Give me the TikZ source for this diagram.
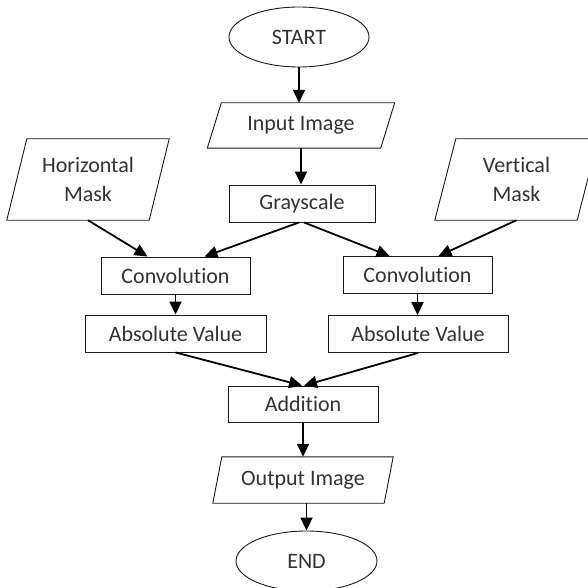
\documentclass[tikz,border=0pt]{standalone}
\usepackage{fontspec}
\setmainfont{Carlito}[Ligatures={NoCommon}]
\usetikzlibrary{shapes.geometric,arrows.meta,calc}
\definecolor{ink}{RGB}{25,25,25}
\definecolor{labelgray}{RGB}{50,50,50}
% parallelogram outline around a named (undrawn) node: #1 node, #2 horizontal slant
\newcommand\slantedframe[2]{%
  \draw[ink, line width=0.9pt]
    ([xshift=#2/2]#1.north west) -- ([xshift=#2/2]#1.north east) --
    ([xshift=-#2/2]#1.south east) -- ([xshift=-#2/2]#1.south west) -- cycle;}
\begin{document}
\begin{tikzpicture}[x=1pt,y=-1pt,
  every node/.style={font=\fontsize{22}{29}\selectfont, text=labelgray, inner sep=0pt},
  terminal/.style={ellipse, draw=ink, line width=0.9pt, minimum width=140pt, minimum height=60pt},
  procbox/.style={rectangle, draw=ink, line width=0.9pt, minimum height=37pt},
  iobody/.style={rectangle, align=center},
  flow/.style={-{Triangle[length=13pt,width=12pt]}, line width=1.8pt, draw=black},
]
\useasboundingbox (0,0) rectangle (587,588);

% nodes
\node[terminal] (start) at (299,37) {START};
\node[iobody, minimum width=173pt, minimum height=45pt] (in) at (301,125.5) {Input Image};
\slantedframe{in}{14}
\node[procbox, minimum width=146pt] (gs) at (302,203.5) {Grayscale};
\node[iobody, minimum width=142pt, minimum height=81pt] (hm) at (88,179.5) {Horizontal\\Mask};
\slantedframe{hm}{20}
\node[iobody, minimum width=142pt, minimum height=81pt] (vm) at (516.5,179.5) {Vertical\\Mask};
\slantedframe{vm}{21}
\node[procbox, minimum width=149pt] (cl) at (175.5,275.5) {Convolution};
\node[procbox, minimum width=149pt] (cr) at (417.5,275) {Convolution};
\node[procbox, minimum width=181pt] (al) at (175.5,333.5) {Absolute Value};
\node[procbox, minimum width=180pt] (ar) at (418,334) {Absolute Value};
\node[procbox, minimum width=150pt, minimum height=36pt] (add) at (303,404) {Addition};
\node[iobody, minimum width=171pt, minimum height=46pt] (out) at (303,480) {Output Image};
\slantedframe{out}{9}
\node[terminal, minimum width=141pt] (end) at (306.5,561) {END};

% connectors
\draw[flow] (start) -- (start |- in.north);
\draw[flow] (in.south) -- (in.south |- gs.north);
\draw[flow] ([xshift=-3pt]gs.south) -- ([xshift=29pt]cl.north);
\draw[flow] (hm.south) -- ([xshift=-28pt]cl.north);
\draw[flow] ([xshift=2pt]gs.south) -- ([xshift=-28pt]cr.north);
\draw[flow] (vm.south) -- ([xshift=21pt]cr.north);
\draw[flow] (cl.south) -- (cl.south |- al.north);
\draw[flow] (cr.south) -- (cr.south |- ar.north);
\draw[flow] (al.south) -- ([xshift=-1pt]add.north);
\draw[flow] (ar.south) -- ([xshift=1pt]add.north);
\draw[flow] (add.south) -- (add.south |- out.north);
\draw[flow] (end |- out.south) -- (end.north);
\end{tikzpicture}
\end{document}
